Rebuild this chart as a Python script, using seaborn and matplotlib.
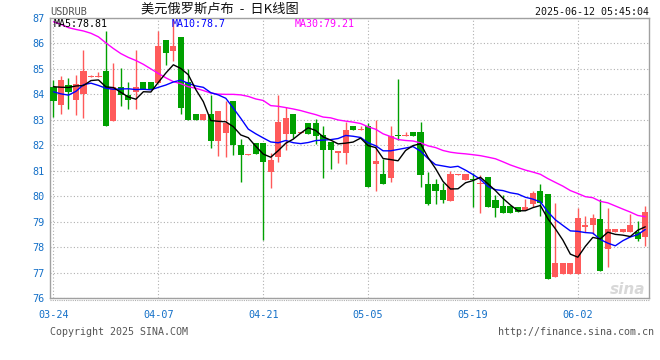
import matplotlib
matplotlib.use("Agg")
import matplotlib.pyplot as plt
import numpy as np
import pandas as pd
import seaborn as sns

# daily USDRUB candles, 2025-03-24 .. 2025-06-11 (weekend bars included)
opens = [84.30, 83.59, 84.37, 83.79, 84.02, 84.68, 84.69, 84.92, 82.94, 84.30,
         83.98, 84.09, 84.50, 84.50, 84.46, 86.13, 85.71, 86.25, 84.50, 83.24,
         82.98, 83.24, 82.18, 82.48, 83.75, 82.03, 81.62, 82.07, 82.07, 80.95,
         81.53, 82.46, 83.24, 82.50, 82.88, 82.88, 82.42, 82.12, 81.68, 81.68,
         82.74, 82.59, 82.74, 81.25, 80.86, 80.70, 82.40, 82.37, 82.51, 82.51,
         80.46, 80.46, 80.23, 79.81, 80.85, 80.63, 80.65, 80.48, 80.75, 79.84,
         79.62, 79.62, 79.59, 79.46, 79.68, 80.20, 80.07, 76.84, 76.95, 76.95,
         76.95, 78.77, 78.86, 79.10, 77.93, 78.58, 78.58, 78.58, 78.58, 78.38]
highs = [84.55, 84.72, 84.66, 84.76, 85.74, 84.78, 84.89, 86.49, 85.24, 85.02,
         84.50, 85.74, 84.50, 84.50, 86.49, 86.13, 86.95, 86.25, 85.00, 83.24,
         83.24, 83.98, 83.33, 83.75, 83.75, 82.26, 81.66, 82.07, 82.07, 81.70,
         83.98, 83.52, 83.24, 82.54, 82.88, 83.03, 82.77, 82.12, 81.77, 82.90,
         82.74, 82.74, 82.88, 82.98, 81.48, 82.77, 84.61, 82.51, 82.51, 82.90,
         80.96, 80.66, 80.53, 80.98, 80.88, 80.86, 80.92, 80.82, 80.75, 80.04,
         80.04, 79.62, 79.59, 79.88, 80.20, 80.49, 80.07, 79.75, 77.38, 77.38,
         79.55, 79.23, 79.29, 79.88, 79.55, 78.71, 78.71, 79.29, 79.03, 79.62]
lows = [83.13, 83.23, 83.42, 83.20, 83.09, 84.68, 84.69, 82.74, 82.94, 83.56,
        83.43, 83.43, 84.21, 84.21, 84.46, 85.15, 85.32, 83.23, 82.98, 82.98,
        82.98, 81.90, 81.57, 81.53, 81.61, 80.55, 81.62, 81.65, 78.28, 80.34,
        81.34, 81.83, 82.29, 82.50, 82.46, 82.05, 80.73, 81.05, 81.31, 81.25,
        82.59, 82.59, 80.36, 80.20, 80.46, 80.55, 82.22, 82.37, 82.35, 80.36,
        79.64, 79.68, 79.72, 79.81, 80.85, 80.63, 79.58, 79.33, 79.58, 79.20,
        79.33, 79.33, 79.36, 79.46, 79.59, 79.23, 76.73, 76.84, 76.95, 76.95,
        76.95, 78.58, 78.51, 77.08, 77.21, 78.58, 78.58, 78.58, 78.25, 78.05]
closes = [83.72, 84.57, 84.11, 84.41, 84.92, 84.70, 84.70, 82.74, 84.27, 83.98,
          83.79, 84.27, 84.21, 84.21, 85.89, 85.61, 85.89, 83.48, 82.98, 82.98,
          83.24, 82.18, 83.33, 82.88, 82.03, 81.61, 81.64, 81.65, 81.34, 81.41,
          82.90, 83.09, 82.46, 82.52, 82.46, 82.38, 81.83, 81.83, 81.77, 82.61,
          82.59, 82.61, 80.36, 81.38, 80.46, 82.38, 82.37, 82.38, 82.35, 80.82,
          79.68, 80.20, 79.85, 80.86, 80.86, 80.86, 80.63, 80.50, 79.58, 79.53,
          79.33, 79.33, 79.36, 79.59, 80.14, 79.75, 76.73, 77.38, 77.38, 77.38,
          79.14, 78.86, 79.14, 77.08, 78.71, 78.71, 78.71, 78.86, 78.32, 79.38]

# moving averages before a full window exists
ma5_head = [84.30, 84.28, 84.27, 84.33]
ma10_head = [84.10, 84.02, 83.97, 84.12, 84.38, 84.44, 84.35, 84.24, 84.20]
ma30_head = [86.85, 86.75, 86.62, 86.55, 86.49, 86.40, 86.26, 86.02, 85.80, 85.60,
             85.45, 85.33, 85.18, 85.00, 84.82, 84.65, 84.50, 84.42, 84.30, 84.24,
             84.15, 84.05, 84.01, 84.00, 84.00, 83.98, 83.92, 83.82, 83.76]

# legend values as printed on the chart
ma_names = ["MA5", "MA10", "MA30"]
ma_latest = ["78.81", "78.7", "79.21"]

tick_labels = ["03-24", "04-07", "04-21", "05-05", "05-19", "06-02"]

days = pd.date_range("2025-03-24", periods=len(closes), freq="D")
df = pd.DataFrame({"open": opens, "high": highs, "low": lows, "close": closes})
df["i"] = np.arange(len(df))
df["MA5"] = df["close"].rolling(5).mean()
df["MA10"] = df["close"].rolling(10).mean()
df["MA30"] = df["close"].rolling(30).mean()
df.loc[:len(ma5_head) - 1, "MA5"] = ma5_head
df.loc[:len(ma10_head) - 1, "MA10"] = ma10_head
df.loc[:len(ma30_head) - 1, "MA30"] = ma30_head

sns.set_style("white")
mono = ["DejaVu Sans Mono"]
RED, GREEN = "#ff5a5a", "#00a000"
TICK_C = "#1470c8"
ma_colors = {"MA5": "#000000", "MA10": "#0000ff", "MA30": "#ff00ff"}

fig = plt.figure(figsize=(6.6, 3.6), dpi=100)
ax = fig.add_axes([50.5 / 660, 62 / 360, 598.5 / 660, 280 / 360])

up = df["close"] >= df["open"]
colors = np.where(up, RED, GREEN)
body_lo = df[["open", "close"]].min(axis=1)
body_h = (df["close"] - df["open"]).abs().clip(lower=0.04)
ax.vlines(df["i"], df["low"], df["high"], colors=colors, linewidth=1, zorder=2)
ax.bar(df["i"], body_h, bottom=body_lo, width=0.82, color=colors,
       edgecolor="none", zorder=3)

for z, name in enumerate(["MA30", "MA10", "MA5"]):
    sns.lineplot(data=df, x="i", y=name, color=ma_colors[name], linewidth=1,
                 ax=ax, zorder=4 + z)

labels = list(days.strftime("%m-%d"))
tick_pos = [labels.index(t) for t in tick_labels]
ax.set_xlim(-0.4, 79.5)
ax.set_ylim(76, 87)
ax.set_xticks(tick_pos)
ax.set_xticklabels(tick_labels)
ax.set_yticks(range(76, 88))
ax.tick_params(axis="x", length=0, labelsize=7.3, labelcolor=TICK_C, pad=9)
ax.tick_params(axis="y", length=0, labelsize=7.3, labelcolor=TICK_C, pad=4)
for lab in ax.get_xticklabels() + ax.get_yticklabels():
    lab.set_family(mono)
ax.set_xlabel("")
ax.set_ylabel("")
ax.grid(True, color="#b0b0b0", linestyle=(0, (1, 2)), linewidth=0.8)
for sp in ax.spines.values():
    sp.set_color("#a0a0a0")
    sp.set_linewidth(1)
# thin dotted rule just under the frame
ax.axhline(75.93, color="#b0b0b0", linestyle=(0, (1, 1)), linewidth=0.8,
           clip_on=False, zorder=1)

fig.text(50 / 660, 1 - 12 / 360, "USDRUB", family=mono, fontsize=7.4,
         color="#555555", va="center")
fig.text(220 / 660, 1 - 9 / 360, "美元俄罗斯卢布  -  日K线图",
         family=["Noto Sans CJK SC", "DejaVu Sans"], fontsize=9.5,
         color="#111111", ha="center", va="center")
fig.text(649 / 660, 1 - 12 / 360, "2025-06-12 05:45:04", family=mono,
         fontsize=7.2, color="#111111", ha="right", va="center")

for name, val, xp in zip(ma_names, ma_latest, [54, 172, 295]):
    fig.text(xp / 660, 1 - 24 / 360, f"{name}:{val}", family=mono,
             fontsize=7.2, color=ma_colors[name], va="center")

fig.text(645 / 660, 1 - 290 / 360, "sina", fontsize=11, style="italic",
         weight="bold", color="#d8d8d8", ha="right", va="center")

fig.text(50 / 660, 1 - 332 / 360, "Copyright 2025 SINA.COM", family=mono,
         fontsize=7.2, color="#555555", va="center")
fig.text(654 / 660, 1 - 332 / 360, "http://finance.sina.com.cn", family=mono,
         fontsize=7.2, color="#555555", ha="right", va="center")

fig.savefig("out.png", dpi=100, facecolor="white")
